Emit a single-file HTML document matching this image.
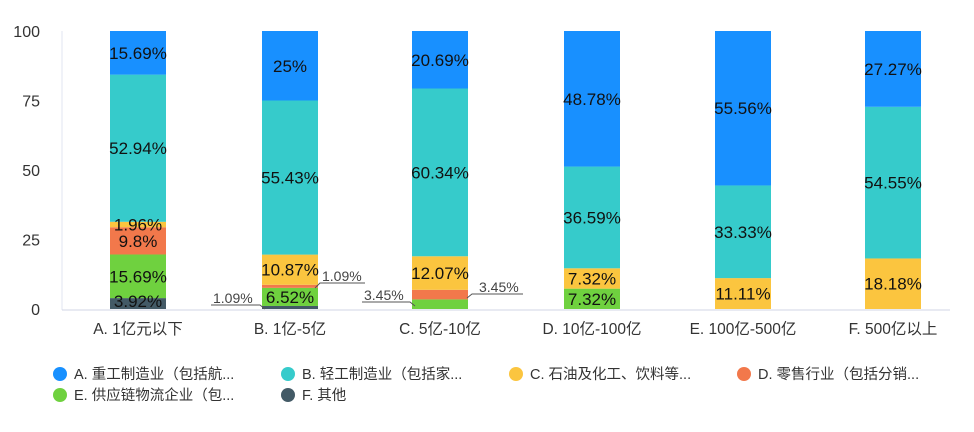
<!DOCTYPE html>
<html><head><meta charset="utf-8"><style>
body{margin:0;background:#fff;width:974px;height:427px;overflow:hidden}
svg{font-family:"Liberation Sans","Noto Sans CJK SC",sans-serif}
</style></head><body>
<svg id="s" width="974" height="427" xmlns="http://www.w3.org/2000/svg"></svg>
<script>
const s=document.getElementById('s');
const C=['#1890ff','#36cbcb','#fbc53f','#f2784b','#6fd13f','#435a66'];
const y=v=>309-2.78*v;
let h='';
h+='<line x1="62" y1="31" x2="62" y2="310" stroke="#e0e6f1"/>';
h+='<line x1="62" y1="310" x2="950" y2="310" stroke="#d0d6e6"/>';
[0,25,50,75,100].forEach(v=>{h+=`<text x="40" y="${y(v)+6}" font-size="16" text-anchor="end" fill="#333">${v}</text>`});
const data=[[3.92,15.69,9.8,1.96,52.94,15.69],[1.09,6.52,1.09,10.87,55.43,25],[0,3.45,3.45,12.07,60.34,20.69],[0,7.32,0,7.32,36.59,48.78],[0,0,0,11.11,33.33,55.56],[0,0,0,18.18,54.55,27.27]];
const cols=[5,4,3,2,1,0];
const xs=[138,290,440,592,743,893];
const cats=['A. 1亿元以下','B. 1亿-5亿','C. 5亿-10亿','D. 10亿-100亿','E. 100亿-500亿','F. 500亿以上'];
data.forEach((d,i)=>{let acc=0;const x=xs[i]-28;
 d.forEach((v,j)=>{if(!v)return;const t=y(Math.min(100,acc+v)),b=y(acc);
  h+=`<rect x="${x}" y="${t}" width="56" height="${b-t}" fill="${C[cols[j]]}"/>`;
  acc+=v;});
 acc=0;
 d.forEach((v,j)=>{if(!v)return;const t=y(Math.min(100,acc+v)),b=y(acc);
  const small=(i==1&&(j==0||j==2))||(i==2&&(j==1||j==2));
  if(!small){let ly=(t+b)/2+6;if(i==0&&j==0)ly=b-2;
   h+=`<text x="${xs[i]}" y="${ly}" font-size="17" text-anchor="middle" fill="#111">${v}%</text>`;}
  acc+=v;});
 h+=`<text x="${xs[i]}" y="334" font-size="15.5" text-anchor="middle" fill="#333">${cats[i]}</text>`;
});
h+='<polyline points="211,305 260,305 265,309" fill="none" stroke="#555"/><text x="213" y="303" font-size="14" fill="#444">1.09%</text>';
h+='<polyline points="315,288 320,283 365,283" fill="none" stroke="#555"/><text x="322" y="281" font-size="14" fill="#444">1.09%</text>';
h+='<polyline points="362,302 410,302 415,306" fill="none" stroke="#555"/><text x="364" y="300" font-size="14" fill="#444">3.45%</text>';
h+='<polyline points="467,298 472,294 523,294" fill="none" stroke="#555"/><text x="479" y="292" font-size="14" fill="#444">3.45%</text>';
const L=[['A. 重工制造业（包括航...',60,374],['B. 轻工制造业（包括家...',288,374],['C. 石油及化工、饮料等...',516,374],['D. 零售行业（包括分销...',744,374],['E. 供应链物流企业（包...',60,395],['F. 其他',288,395]];
L.forEach((l,i)=>{h+=`<circle cx="${l[1]}" cy="${l[2]}" r="7" fill="${C[i]}"/><text x="${l[1]+14}" y="${l[2]+5}" font-size="14.5" fill="#333">${l[0]}</text>`});
s.innerHTML=h;
</script>
</body></html>
